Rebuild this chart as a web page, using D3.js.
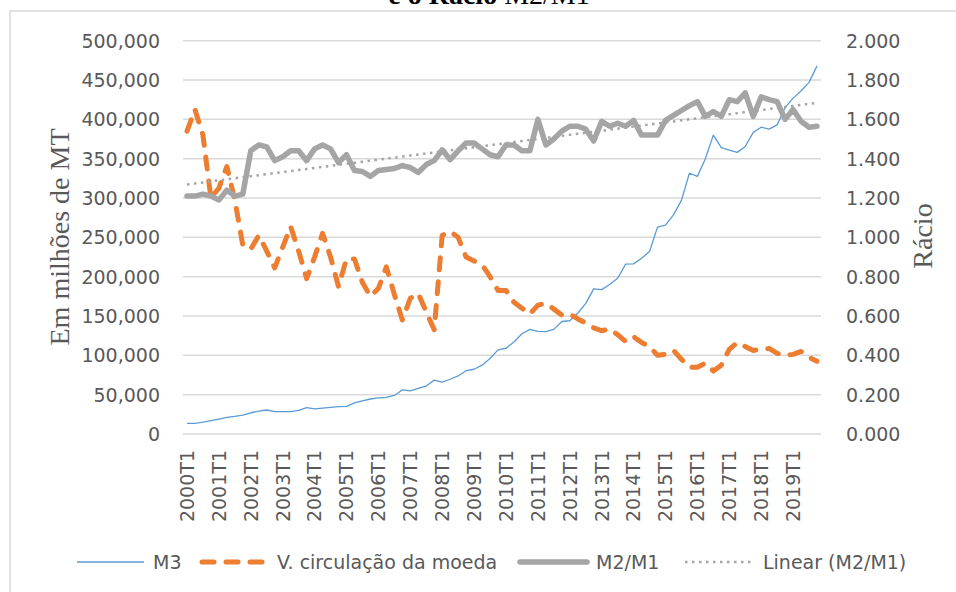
<!DOCTYPE html>
<meta charset="utf-8">
<style>
body { margin: 0; background: #fff; }
.tick-lbl { font-family: "DejaVu Sans", sans-serif; font-size: 19px; fill: #595959; }
.axis-title { font-family: "Liberation Serif", serif; font-size: 28px; fill: #595959; }
.grid line { stroke: #d9d9d9; stroke-width: 1.5; }
</style>
<body>
<script src="https://d3js.org/d3.v7.min.js"></script>
<script>
// years and quarters (category labels)
var years = [2000, 2001, 2002, 2003, 2004, 2005, 2006, 2007, 2008, 2009,
             2010, 2011, 2012, 2013, 2014, 2015, 2016, 2017, 2018, 2019];
var quarterNames = ["T1", "T2", "T3", "T4"];
var quarters = [];
years.forEach(function(y) { quarterNames.forEach(function(q) { quarters.push(y + q); }); });

// M3, em milhões de MT (left axis)
var m3 = [13600, 13600, 15000, 17000, 19000, 21000, 22500, 24000, 27000, 29000,
          30500, 28500, 28400, 28400, 30000, 33500, 32000, 33000, 33800, 34800,
          35000, 39500, 42000, 44500, 46000, 46500, 49000, 56000, 54700, 58000,
          61000, 68500, 66000, 69600, 73800, 80500, 82300, 87500, 96000, 107000,
          109000, 117000, 127500, 133000, 130500, 130200, 133000, 143000, 144000, 153500,
          166000, 184500, 183500, 190000, 198000, 216000, 216300, 223500, 232000, 263000,
          265500, 278500, 297000, 331500, 327500, 350000, 380000, 364000, 361000, 358000,
          365500, 383500, 390000, 387500, 393000, 415000, 427000, 436000, 447000, 468000];

// V. circulação da moeda (right axis)
var velocidade = [1.54, 1.65, 1.52, 1.20, 1.25, 1.36, 1.19, 0.96, 0.94, 1.01,
                  0.93, 0.845, 0.95, 1.055, 0.93, 0.79, 0.90, 1.02, 0.90, 0.75,
                  0.89, 0.89, 0.77, 0.70, 0.74, 0.85, 0.71, 0.58, 0.69, 0.715,
                  0.62, 0.53, 1.01, 1.03, 1.00, 0.90, 0.88, 0.86, 0.80, 0.73,
                  0.73, 0.67, 0.64, 0.61, 0.655, 0.665, 0.635, 0.605, 0.61, 0.585,
                  0.565, 0.54, 0.525, 0.535, 0.505, 0.47, 0.495, 0.465, 0.445, 0.40,
                  0.405, 0.425, 0.38, 0.34, 0.34, 0.36, 0.32, 0.35, 0.43, 0.465,
                  0.445, 0.425, 0.43, 0.435, 0.41, 0.40, 0.405, 0.42, 0.39, 0.37];

// Rácio M2/M1 (right axis)
var racio = [1.21, 1.21, 1.22, 1.21, 1.19, 1.24, 1.21, 1.22, 1.44, 1.47,
             1.46, 1.39, 1.41, 1.44, 1.44, 1.39, 1.45, 1.47, 1.45, 1.38,
             1.42, 1.34, 1.335, 1.31, 1.34, 1.345, 1.35, 1.365, 1.355, 1.33,
             1.37, 1.39, 1.445, 1.395, 1.44, 1.48, 1.48, 1.45, 1.42, 1.41,
             1.47, 1.47, 1.44, 1.44, 1.60, 1.47, 1.50, 1.54, 1.565, 1.565,
             1.55, 1.49, 1.59, 1.565, 1.58, 1.565, 1.595, 1.52, 1.52, 1.52,
             1.595, 1.62, 1.645, 1.67, 1.69, 1.615, 1.64, 1.615, 1.70, 1.69,
             1.735, 1.615, 1.715, 1.70, 1.69, 1.60, 1.65, 1.59, 1.56, 1.565];

var leftTicks = [0, 50000, 100000, 150000, 200000, 250000, 300000, 350000, 400000, 450000, 500000];
var rightTicks = [0, 0.2, 0.4, 0.6, 0.8, 1.0, 1.2, 1.4, 1.6, 1.8, 2.0];
var labelEvery = 4;

// plot area
var W = 956, H = 592;
var plot = {left: 183, right: 821, top: 40.7, bottom: 434};

var svg = d3.select("body").append("svg")
    .attr("width", W)
    .attr("height", H);

// chart border
svg.append("rect")
    .attr("x", 10).attr("y", 11)
    .attr("width", 980).attr("height", 620)
    .attr("fill", "none")
    .attr("stroke", "#d9d9d9")
    .attr("stroke-width", 1.5);

// title (partly cut at the top)
var title = svg.append("text")
    .attr("x", 489).attr("y", 4)
    .attr("text-anchor", "middle")
    .style("font-family", "Liberation Serif, serif")
    .style("font-size", "28px")
    .style("fill", "#000");
title.append("tspan").attr("font-weight", "bold").text("e o Rácio ");
title.append("tspan").text("M2/M1");

// scales
var x = d3.scaleBand().domain(quarters).range([plot.left, plot.right]);
var cx = function(d) { return x(d) + x.bandwidth() / 2; };
var yl = d3.scaleLinear().domain([0, 500000]).range([plot.bottom, plot.top]);
var yr = d3.scaleLinear().domain([0, 2]).range([plot.bottom, plot.top]);

// gridlines
svg.append("g").attr("class", "grid")
  .selectAll("line").data(leftTicks).enter().append("line")
    .attr("x1", plot.left).attr("x2", plot.right)
    .attr("y1", function(d) { return yl(d); })
    .attr("y2", function(d) { return yl(d); });

// left axis labels
var fmtL = d3.format(",");
svg.append("g").selectAll("text").data(leftTicks).enter().append("text")
    .attr("class", "tick-lbl")
    .attr("x", 160)
    .attr("y", function(d) { return yl(d); })
    .attr("dy", "0.36em")
    .attr("text-anchor", "end")
    .text(function(d) { return d === 0 ? "0" : fmtL(d); });

// right axis labels
var fmtR = d3.format(".3f");
svg.append("g").selectAll("text").data(rightTicks).enter().append("text")
    .attr("class", "tick-lbl")
    .attr("x", 846)
    .attr("y", function(d) { return yr(d); })
    .attr("dy", "0.36em")
    .attr("text-anchor", "start")
    .text(function(d) { return fmtR(d); });

// category labels, rotated
svg.append("g").selectAll("text")
    .data(quarters.filter(function(d, i) { return i % labelEvery === 0; }))
  .enter().append("text")
    .attr("class", "tick-lbl")
    .attr("transform", function(d) { return "translate(" + cx(d) + ",450) rotate(-90)"; })
    .attr("dy", "0.36em")
    .attr("text-anchor", "end")
    .text(function(d) { return d; });

// axis titles
svg.append("text")
    .attr("class", "axis-title")
    .attr("transform", "translate(69,237) rotate(-90)")
    .attr("text-anchor", "middle")
    .text("Em milhões de MT");
svg.append("text")
    .attr("class", "axis-title")
    .attr("transform", "translate(932,236) rotate(-90)")
    .attr("text-anchor", "middle")
    .text("Rácio");

// linear trend of M2/M1 (least squares over quarter index)
var n = racio.length;
var mx = d3.mean(racio, function(d, i) { return i; });
var my = d3.mean(racio);
var sxy = d3.sum(racio, function(d, i) { return (i - mx) * (d - my); });
var sxx = d3.sum(racio, function(d, i) { return (i - mx) * (i - mx); });
var slope = sxy / sxx, icpt = my - slope * mx;
var trend = quarters.map(function(q, i) { return icpt + slope * i; });

var lineL = d3.line()
    .x(function(d, i) { return cx(quarters[i]); })
    .y(function(d) { return yl(d); });
var lineR = d3.line()
    .x(function(d, i) { return cx(quarters[i]); })
    .y(function(d) { return yr(d); });

// series (drawing order as in Excel)
svg.append("path").datum(m3)
    .attr("d", lineL)
    .attr("fill", "none")
    .attr("stroke", "#5B9BD5")
    .attr("stroke-width", 1.3)
    .attr("stroke-linejoin", "round");

svg.append("path").datum(velocidade)
    .attr("d", lineR)
    .attr("fill", "none")
    .attr("stroke", "#ED7D31")
    .attr("stroke-width", 5)
    .attr("stroke-linecap", "round")
    .attr("stroke-linejoin", "round")
    .attr("stroke-dasharray", "12,12");

svg.append("path").datum(racio)
    .attr("d", lineR)
    .attr("fill", "none")
    .attr("stroke", "#A5A5A5")
    .attr("stroke-width", 5.5)
    .attr("stroke-linecap", "round")
    .attr("stroke-linejoin", "round");

svg.append("path").datum(trend)
    .attr("d", lineR)
    .attr("fill", "none")
    .attr("stroke", "#A5A5A5")
    .attr("stroke-width", 2.5)
    .attr("stroke-dasharray", "2.5,4.5");

// legend
var legendY = 562;
var legend = [
  {name: "M3", x1: 77, x2: 144, tx: 153, color: "#5B9BD5", w: 1.3, dash: null, cap: "butt"},
  {name: "V. circulação da moeda", x1: 202, x2: 266, tx: 277, color: "#ED7D31", w: 5, dash: "12,12", cap: "round"},
  {name: "M2/M1", x1: 520, x2: 587, tx: 596, color: "#A5A5A5", w: 5.5, dash: null, cap: "round"},
  {name: "Linear (M2/M1)", x1: 685, x2: 751, tx: 763, color: "#A5A5A5", w: 2.5, dash: "2.5,4.5", cap: "butt"}
];
var lg = svg.append("g").selectAll("g").data(legend).enter().append("g");
lg.append("line")
    .attr("x1", function(d) { return d.x1; })
    .attr("x2", function(d) { return d.x2; })
    .attr("y1", legendY).attr("y2", legendY)
    .attr("stroke", function(d) { return d.color; })
    .attr("stroke-width", function(d) { return d.w; })
    .attr("stroke-linecap", function(d) { return d.cap; })
    .attr("stroke-dasharray", function(d) { return d.dash; });
lg.append("text")
    .attr("class", "tick-lbl")
    .attr("x", function(d) { return d.tx; })
    .attr("y", legendY)
    .attr("dy", "0.36em")
    .text(function(d) { return d.name; });
</script>
</body>
